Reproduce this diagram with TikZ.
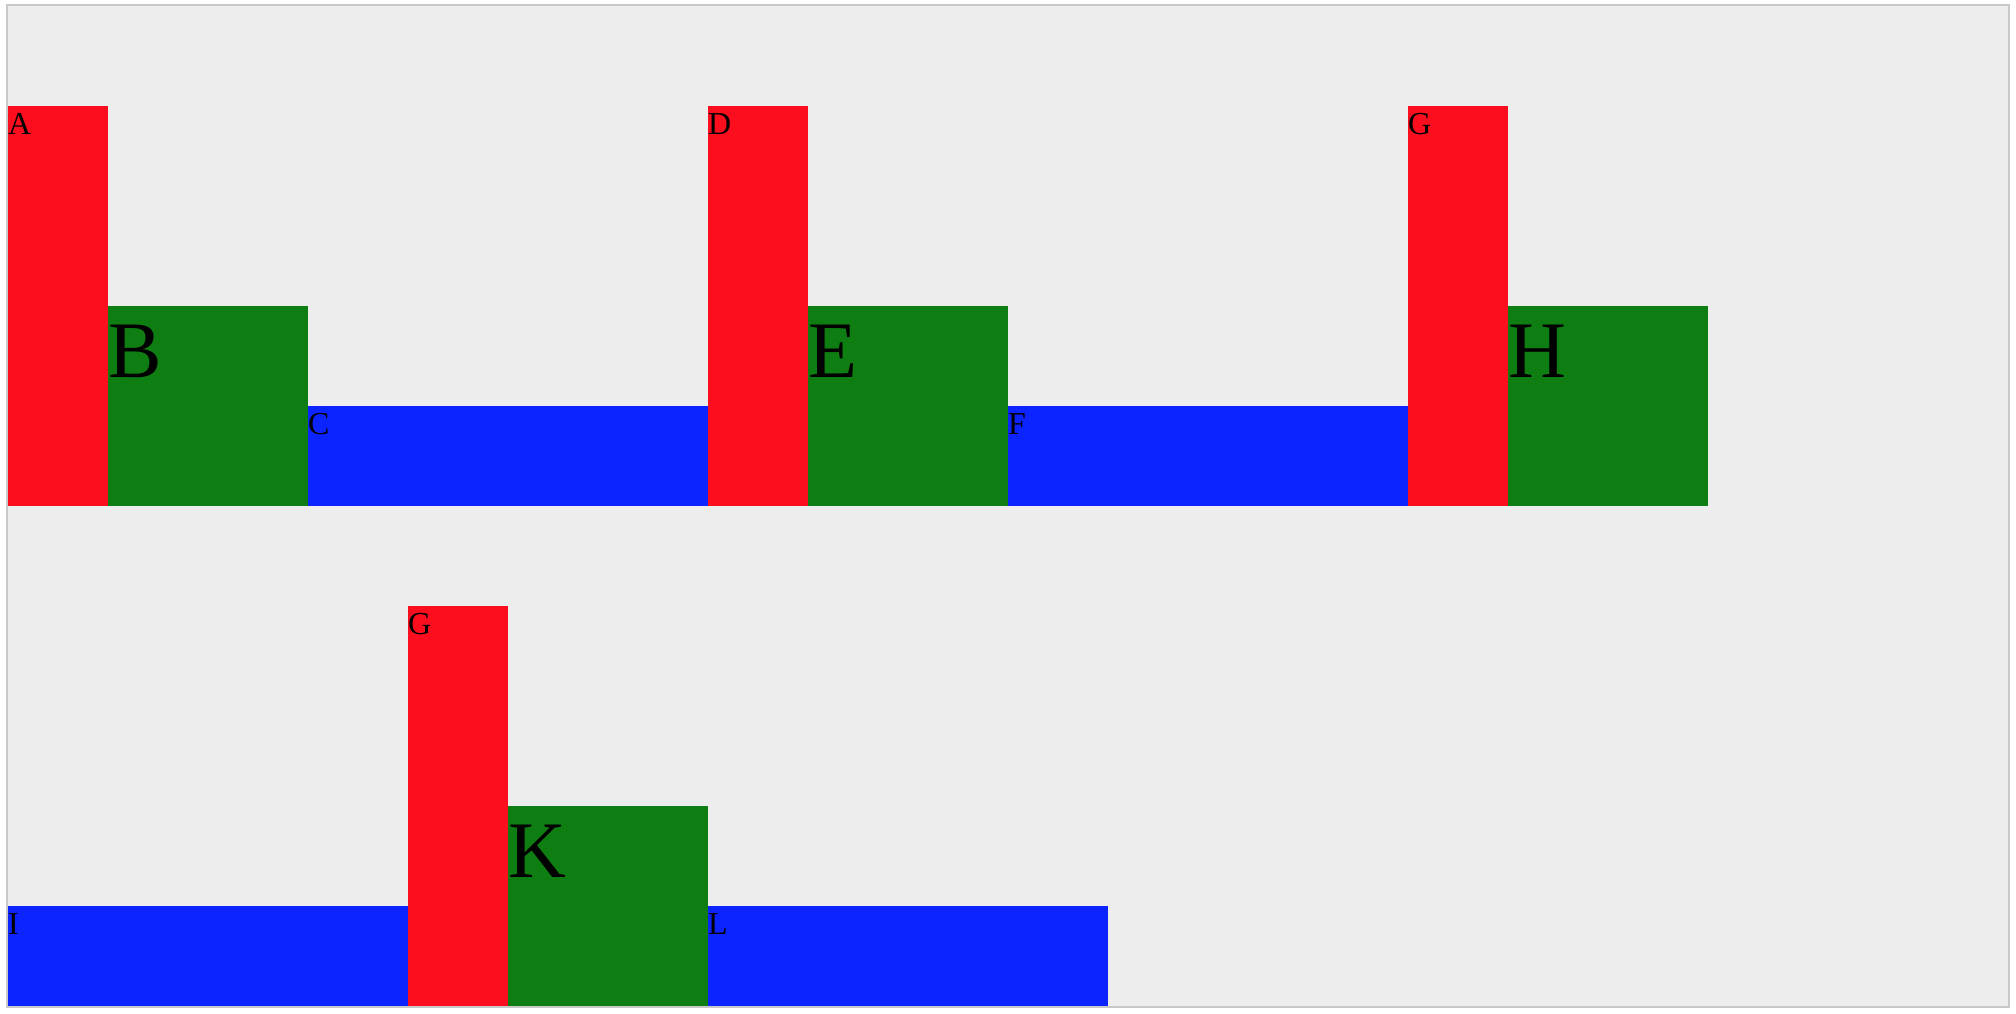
\documentclass[tikz,border=0pt]{standalone}
\usepackage{fontspec}
\setmainfont{Liberation Serif}

\definecolor{barred}{RGB}{252,14,30}
\definecolor{bargreen}{RGB}{15,126,18}
\definecolor{barblue}{RGB}{12,36,255}
\definecolor{panelgray}{RGB}{237,237,237}
\definecolor{framegray}{RGB}{200,200,200}

\begin{document}
\begin{tikzpicture}[
				every node/.style={
					inner sep=0pt,
					outer sep=0pt
				},
				redbar/.style={fill=barred, minimum width=1cm, minimum height=4cm, anchor=south west},
				greenbar/.style={fill=bargreen, minimum width=2cm, minimum height=2cm, anchor=south west},
				bluebar/.style={fill=barblue, minimum width=4cm, minimum height=1cm, anchor=south west},
				smalllbl/.style={anchor=base west, font=\fontsize{9.1}{11}\selectfont},
				biglbl/.style={anchor=base west, font=\fontsize{22.8}{27}\selectfont}
				]
				\useasboundingbox (0,0) rectangle (20.16,10.14);
				
				% Panel
				\draw[framegray, fill=panelgray, line width=0.02cm] (0.07,0.07) rectangle (20.09,10.09);
				
				% Top row
				\node[redbar] (barA) at (0.08,5.08) {};
				\node[greenbar] (barB) at (barA.south east) {};
				\node[bluebar] (barC) at (barB.south east) {};
				\node[redbar] (barD) at (barC.south east) {};
				\node[greenbar] (barE) at (barD.south east) {};
				\node[bluebar] (barF) at (barE.south east) {};
				\node[redbar] (barG) at (barF.south east) {};
				\node[greenbar] (barH) at (barG.south east) {};
				
				% Bottom row
				\node[bluebar] (barI) at (0.08,0.08) {};
				\node[redbar] (barJ) at (barI.south east) {};
				\node[greenbar] (barK) at (barJ.south east) {};
				\node[bluebar] (barL) at (barK.south east) {};
				
				% Labels
				\node[smalllbl] (lblA) at ([yshift=-0.285cm]barA.north west) {A};
				\node[biglbl] (lblB) at ([yshift=-0.713cm]barB.north west) {B};
				\node[smalllbl] (lblC) at ([yshift=-0.285cm]barC.north west) {C};
				\node[smalllbl] (lblD) at ([yshift=-0.285cm]barD.north west) {D};
				\node[biglbl] (lblE) at ([yshift=-0.713cm]barE.north west) {E};
				\node[smalllbl] (lblF) at ([yshift=-0.285cm]barF.north west) {F};
				\node[smalllbl] (lblG) at ([yshift=-0.285cm]barG.north west) {G};
				\node[biglbl] (lblH) at ([yshift=-0.713cm]barH.north west) {H};
				\node[smalllbl] (lblI) at ([yshift=-0.285cm]barI.north west) {I};
				\node[smalllbl] (lblJ) at ([yshift=-0.285cm]barJ.north west) {G};
				\node[biglbl] (lblK) at ([yshift=-0.713cm]barK.north west) {K};
				\node[smalllbl] (lblL) at ([yshift=-0.285cm]barL.north west) {L};
			\end{tikzpicture}
\end{document}
